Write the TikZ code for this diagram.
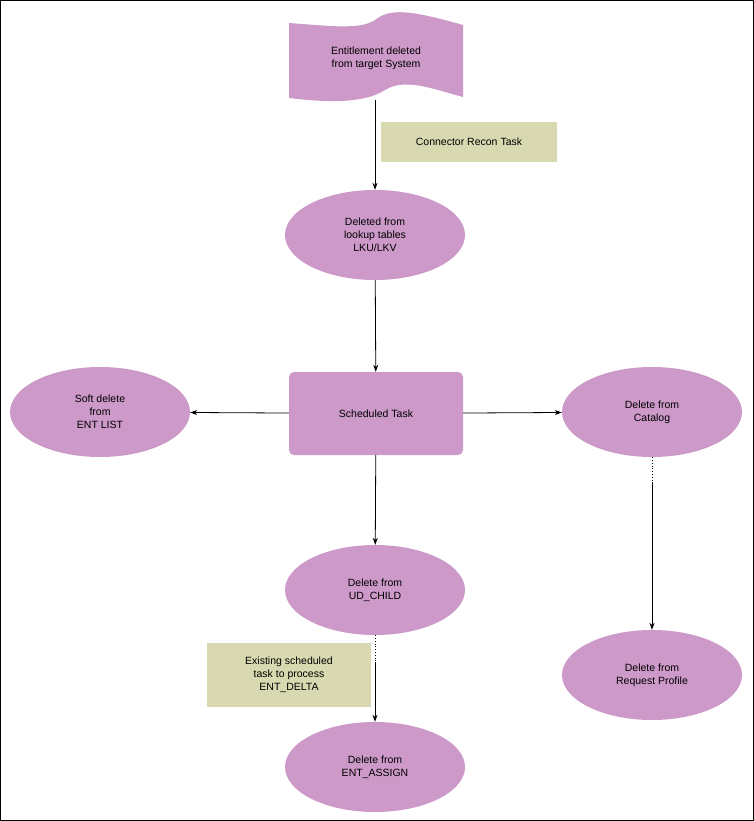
\documentclass[tikz,border=0pt]{standalone}
\usepackage{fontspec}
\setmainfont{Liberation Sans}
\usetikzlibrary{shapes.geometric,arrows.meta}
\definecolor{pur}{HTML}{CC99C9}
\definecolor{kha}{HTML}{D9D9B1}
\begin{document}
\begin{tikzpicture}[x=1pt,y=-1pt,
  every node/.style={font=\fontsize{10.5}{13}\selectfont,align=center},
  ell/.style={ellipse,fill=pur,minimum width=180pt,minimum height=90pt,inner sep=0},
  note/.style={fill=kha,inner sep=0},
  arr/.style={-{Stealth[length=7pt,width=5pt]},line width=0.8pt}]
\draw[line width=1pt] (0.5,0.5) rectangle (753.5,820.5);
\fill[pur] (289,23) .. controls (330,26) and (360,30) .. (375,20)
  .. controls (390,8) and (410,10) .. (463,25) -- (463,97)
  .. controls (430,88) and (405,78) .. (385,90)
  .. controls (365,103) and (330,103) .. (289,98) -- cycle;
\node (doc) at (376,58) {Entitlement deleted\\from target System};
\coordinate (docb) at (375,100);
\node[note,minimum width=176pt,minimum height=40pt] (n1) at (469,142) {Connector Recon Task};
\node[ell] (lk) at (375,235) {Deleted from\\lookup tables\\LKU/LKV};
\node[fill=pur,rounded corners=5pt,minimum width=174pt,minimum height=83pt] (st) at (376,413.5) {Scheduled Task};
\node[ell] (sd) at (100,412) {Soft delete\\from\\ENT LIST};
\node[ell] (cat) at (652,412) {Delete from\\Catalog};
\node[ell] (ud) at (375,590) {Delete from\\UD\_CHILD};
\node[note,minimum width=164pt,minimum height=64pt] (n2) at (289,675) {Existing scheduled\\task to process\\ENT\_DELTA};
\node[ell] (ea) at (375,767) {Delete from\\ENT\_ASSIGN};
\node[ell] (rp) at (652,675) {Delete from\\Request Profile};
\draw[arr] (docb) -- (lk);
\draw[arr] (lk) -- (st);
\draw[arr] (st) -- (sd);
\draw[arr] (st) -- (cat);
\draw[arr] (st) -- (ud);
\coordinate (m1) at (375,662);
\coordinate (m2) at (652,482);
\draw[dotted,line width=0.8pt] (ud) -- (m1);
\draw[arr] (m1) -- (ea);
\draw[dotted,line width=0.8pt] (cat) -- (m2);
\draw[arr] (m2) -- (rp);
\end{tikzpicture}
\end{document}
